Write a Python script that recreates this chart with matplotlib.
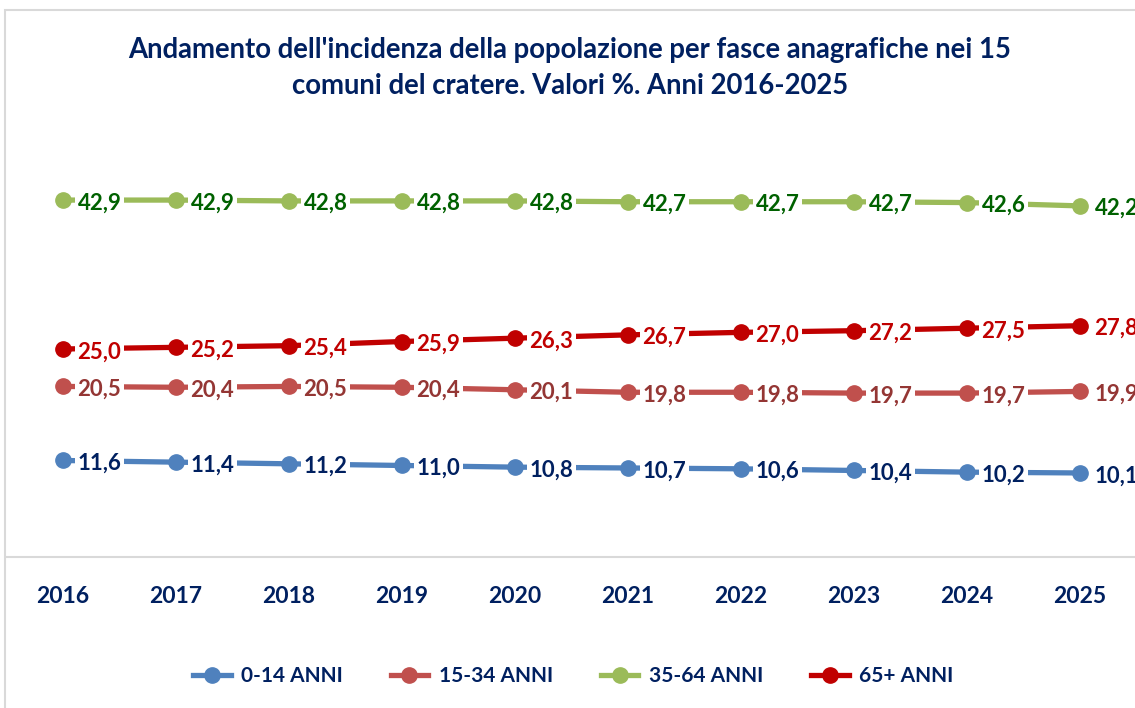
import numpy as np
from matplotlib import pyplot as plt
from matplotlib.patches import Rectangle

plt.rcParams['font.family'] = ['Lato', 'DejaVu Sans']
plt.rcParams['font.weight'] = 'bold'

years = ["2016", "2017", "2018", "2019", "2020", "2021", "2022", "2023", "2024", "2025"]
age_0_14 = [11.6, 11.4, 11.2, 11.0, 10.8, 10.7, 10.6, 10.4, 10.2, 10.1]
age_15_34 = [20.5, 20.4, 20.5, 20.4, 20.1, 19.8, 19.8, 19.7, 19.7, 19.9]
age_35_64 = [42.9, 42.9, 42.8, 42.8, 42.8, 42.7, 42.7, 42.7, 42.6, 42.2]
age_65 = [25.0, 25.2, 25.4, 25.9, 26.3, 26.7, 27.0, 27.2, 27.5, 27.8]

series = [
    ("0-14 ANNI", age_0_14, "#4F81BD", "#002060"),
    ("15-34 ANNI", age_15_34, "#C0504D", "#943634"),
    ("35-64 ANNI", age_35_64, "#9BBB59", "#006100"),
    ("65+ ANNI", age_65, "#C00000", "#C00000"),
]
navy = "#002060"

fig = plt.figure(figsize=(11.35, 7.08), dpi=100)
fig.patches.append(Rectangle((5 / 1135, -0.1), 1.2, 1 - 10 / 708 + 0.1, transform=fig.transFigure,
                             fill=False, edgecolor="#D9D9D9", linewidth=1.5))

ax = fig.add_axes([6.5 / 1135, 151 / 708, 1130 / 1135, 416 / 708])
x = np.arange(len(years))

for name, vals, col, lcol in series:
    ax.plot(x, vals, color=col, linewidth=3.8, marker="o", markersize=11, label=name, clip_on=False)
    for xi, v in zip(x, vals):
        ax.annotate(f"{v:.1f}".replace(".", ","), (xi, v), xytext=(10.5, -2), textcoords="offset points",
                    ha="left", va="center", fontsize=16, fontweight="bold", color=lcol,
                    bbox=dict(boxstyle="square,pad=0.1", fc="white", ec="none"), annotation_clip=False)

ax.set_xlim(-0.5, len(years) - 0.5)
ax.set_ylim(0, 50)
ax.set_xticks(x)
ax.set_xticklabels(years, fontsize=16.5, fontweight="bold", color=navy)
ax.tick_params(axis="x", length=0, pad=21)
ax.set_yticks([])
for s in ["top", "left", "right"]:
    ax.spines[s].set_visible(False)
ax.spines["bottom"].set_color("#D9D9D9")
ax.spines["bottom"].set_linewidth(1.5)

fig.text(0.502, 1 - 68 / 708, "Andamento dell'incidenza della popolazione per fasce anagrafiche nei 15\ncomuni del cratere. Valori %. Anni 2016-2025",
         ha="center", va="center", fontsize=19.8, fontweight="bold", color=navy, linespacing=1.45)

fig.legend(loc="center", bbox_to_anchor=(0.505, 1 - 676 / 708), ncol=4, frameon=False,
           fontsize=15, labelcolor=navy, handlelength=1.8, columnspacing=2.3, handletextpad=0.5)

plt.savefig("out.png")
